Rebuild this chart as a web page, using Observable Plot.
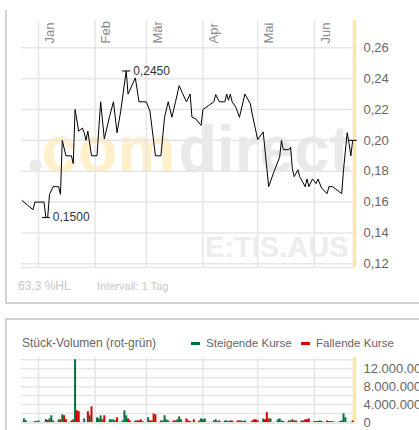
<!DOCTYPE html>
<html><head><meta charset="utf-8">
<script src="https://cdn.jsdelivr.net/npm/d3@7"></script>
<script src="https://cdn.jsdelivr.net/npm/@observablehq/plot@0.6"></script>
<style>
body{margin:0;width:419px;height:430px;overflow:hidden;position:relative;background:#fff;font-family:"Liberation Sans",Arial,sans-serif;}
.abs{position:absolute;white-space:nowrap;line-height:12px;}
</style></head><body>
<div class="abs" style="left:5px;top:10px;width:420px;height:292px;border-left:2px solid #d2d2d2;border-bottom:2px solid #d2d2d2;"></div>
<div class="abs" style="left:5px;top:318px;width:420px;height:140px;border-left:2px solid #d2d2d2;border-top:2px solid #d2d2d2;"></div>
<div id="price" class="abs" style="left:0;top:0;"></div>
<div class="abs" style="left:18px;top:280px;font-size:12px;color:#c8c8c8;">63,3 %HL</div>
<div class="abs" style="left:97px;top:280px;font-size:11px;color:#c8c8c8;">Intervall: 1 Tag</div>
<div class="abs" style="left:22px;top:337px;font-size:12px;color:#666;">Stück-Volumen (rot-grün)</div>
<div class="abs" style="left:191px;top:342px;width:9px;height:3px;background:#00703c;"></div>
<div class="abs" style="left:206px;top:337px;font-size:11.6px;color:#666;">Steigende Kurse</div>
<div class="abs" style="left:301px;top:342px;width:9px;height:3px;background:#d40000;"></div>
<div class="abs" style="left:316px;top:337px;font-size:11.6px;color:#666;">Fallende Kurse</div>
<div id="volume" class="abs" style="left:0;top:350px;"></div>
<script>
// ---- data ----
const priceDates = ["2008-12-23","2008-12-26","2008-12-29","2008-12-30","2009-01-04","2009-01-05","2009-01-06","2009-01-07","2009-01-09","2009-01-12","2009-01-13","2009-01-14","2009-01-16","2009-01-19","2009-01-20","2009-01-21","2009-01-23","2009-01-25","2009-01-26","2009-01-27","2009-01-28","2009-01-30","2009-02-02","2009-02-04","2009-02-06","2009-02-09","2009-02-11","2009-02-13","2009-02-15","2009-02-18","2009-02-19","2009-02-23","2009-02-25","2009-03-01","2009-03-03","2009-03-06","2009-03-09","2009-03-11","2009-03-13","2009-03-15","2009-03-17","2009-03-19","2009-03-21","2009-03-23","2009-03-25","2009-03-26","2009-03-28","2009-03-31","2009-04-01","2009-04-04","2009-04-07","2009-04-08","2009-04-10","2009-04-13","2009-04-14","2009-04-15","2009-04-16","2009-04-17","2009-04-19","2009-04-21","2009-04-24","2009-04-27","2009-04-28","2009-05-01","2009-05-04","2009-05-07","2009-05-10","2009-05-13","2009-05-14","2009-05-15","2009-05-18","2009-05-19","2009-05-20","2009-05-21","2009-05-23","2009-05-24","2009-05-27","2009-05-28","2009-05-29","2009-05-31","2009-06-02","2009-06-03","2009-06-05","2009-06-08","2009-06-09","2009-06-11","2009-06-16","2009-06-17","2009-06-19","2009-06-20","2009-06-21","2009-06-22"];
const priceValues = [0.161,0.158,0.155,0.160,0.160,0.150,0.150,0.165,0.170,0.170,0.165,0.200,0.190,0.190,0.185,0.220,0.206,0.208,0.205,0.200,0.206,0.190,0.190,0.225,0.201,0.216,0.225,0.205,0.219,0.245,0.230,0.2405,0.225,0.225,0.219,0.190,0.190,0.215,0.225,0.215,0.225,0.2355,0.230,0.225,0.230,0.215,0.214,0.2097,0.220,0.2225,0.225,0.2297,0.225,0.225,0.230,0.226,0.230,0.225,0.2215,0.215,0.230,0.2237,0.217,0.2005,0.2055,0.170,0.180,0.189,0.200,0.194,0.194,0.1955,0.1815,0.1765,0.181,0.1765,0.170,0.175,0.170,0.175,0.172,0.175,0.169,0.1655,0.170,0.170,0.1655,0.181,0.205,0.198,0.190,0.200];

const volDates = ["2008-12-24","2008-12-25","2008-12-30","2008-12-31","2009-01-01","2009-01-05","2009-01-06","2009-01-07","2009-01-08","2009-01-09","2009-01-12","2009-01-13","2009-01-14","2009-01-15","2009-01-16","2009-01-19","2009-01-20","2009-01-21","2009-01-22","2009-01-23","2009-01-26","2009-01-28","2009-01-29","2009-01-30","2009-02-02","2009-02-03","2009-02-04","2009-02-05","2009-02-06","2009-02-09","2009-02-10","2009-02-11","2009-02-12","2009-02-13","2009-02-16","2009-02-17","2009-02-18","2009-02-19","2009-02-20","2009-02-23","2009-02-24","2009-02-25","2009-02-26","2009-02-27","2009-03-02","2009-03-03","2009-03-04","2009-03-05","2009-03-06","2009-03-09","2009-03-10","2009-03-11","2009-03-12","2009-03-13","2009-03-16","2009-03-17","2009-03-18","2009-03-19","2009-03-20","2009-03-23","2009-03-24","2009-03-25","2009-03-27","2009-03-30","2009-03-31","2009-04-01","2009-04-02","2009-04-07","2009-04-08","2009-04-09","2009-04-10","2009-04-13","2009-04-14","2009-04-15","2009-04-16","2009-04-17","2009-04-20","2009-04-21","2009-04-22","2009-04-23","2009-04-24","2009-04-28","2009-04-29","2009-04-30","2009-05-01","2009-05-04","2009-05-05","2009-05-06","2009-05-07","2009-05-08","2009-05-12","2009-05-13","2009-05-14","2009-05-15","2009-05-18","2009-05-19","2009-05-20","2009-05-21","2009-05-22","2009-05-25","2009-05-26","2009-05-27","2009-05-28","2009-05-29","2009-06-01","2009-06-02","2009-06-03","2009-06-04","2009-06-05","2009-06-08","2009-06-09","2009-06-10","2009-06-11","2009-06-15","2009-06-16","2009-06-17","2009-06-18","2009-06-22"];
const volValues = [800000,400000,200000,200000,350000,650000,450000,800000,1500000,350000,600000,600000,1700000,1500000,600000,350000,600000,14000000,2600000,2400000,800000,2400000,1500000,3500000,1050000,800000,1500000,600000,1500000,600000,600000,600000,350000,1050000,350000,2600000,1500000,800000,350000,350000,350000,350000,600000,200000,1050000,350000,350000,1900000,1700000,350000,350000,1500000,600000,350000,350000,350000,600000,1250000,600000,800000,350000,200000,600000,350000,800000,600000,800000,350000,600000,200000,350000,350000,350000,200000,350000,350000,350000,350000,350000,200000,350000,350000,600000,600000,350000,800000,600000,2200000,800000,800000,600000,800000,350000,200000,350000,350000,600000,350000,350000,350000,350000,600000,600000,800000,200000,200000,200000,350000,200000,350000,200000,200000,200000,200000,350000,1900000,1050000,350000];
const volDir = ["up","up","down","down","up","up","down","up","up","up","up","down","up","down","down","up","down","up","down","down","up","down","up","down","up","up","up","down","down","up","up","up","up","down","up","up","up","down","down","up","down","down","down","up","up","down","down","down","down","up","up","up","up","up","down","down","up","up","up","down","down","down","down","down","up","up","up","up","up","up","down","up","up","up","down","up","down","down","up","down","up","down","down","down","down","up","down","down","down","up","up","up","up","down","up","up","down","up","down","up","down","down","down","down","up","up","down","up","down","down","up","down","up","down","up","up","up","down"];

const monthDates = ["2009-01-01","2009-02-01","2009-03-01","2009-04-01","2009-05-01","2009-06-01"];
const monthLabels = ["Jan","Feb","Mär","Apr","Mai","Jun"];
const priceTicks = [0.12,0.14,0.16,0.18,0.20,0.22,0.24,0.26];
const priceDomain = [0.1176, 0.2777];
const volTicks = [0,4000000,8000000,12000000];
const volGrid = [0,2000000,4000000,6000000,8000000,10000000,12000000,14000000];
const volDomain = [0, 14500000];
const xDomain = ["2008-12-22T16:00:00Z","2009-06-23T00:00:00Z"];
const watermarkParts = ["com","direct"];
const watermarkSymbol = "E:TIS.AUS";

// ---- build ----
const parse = d3.utcParse("%Y-%m-%d");
const price = priceDates.map((d,i)=>({date: parse(d), value: priceValues[i]}));
const volume = volDates.map((d,i)=>({date: parse(d), value: volValues[i], dir: volDir[i]}));
const months = monthDates.map((d,i)=>({date: parse(d), label: monthLabels[i]}));
const monthTicks = months.map(m=>m.date);
const xDom = xDomain.map(d=>new Date(d));
const fmtPrice = d => d.toFixed(2).replace(".", ",");
const fmt4 = d => d.toFixed(4).replace(".", ",");
const fmtVol = d => d3.format(",")(d).replace(/,/g, ".");
const minPt = d3.least(price, d=>d.value);
const maxPt = d3.greatest(price, d=>d.value);
const lastPt = price[price.length-1];
const dash = {draw(ctx){ ctx.moveTo(-4,0); ctx.lineTo(4,0); }};
const font = "Liberation Sans, Arial, sans-serif";
const grid = "#e6e6e6";
const yellow = "#fde8a2";

const priceChart = Plot.plot({
  width: 419, height: 270,
  marginTop: 20, marginBottom: 3, marginLeft: 21, marginRight: 65,
  style: {fontFamily: font, background: "transparent", color: "#666", overflow: "visible"},
  x: {type: "utc", domain: xDom, axis: null},
  y: {domain: priceDomain, axis: null},
  marks: [
    Plot.dot([0], {frameAnchor: "top-left", dx: 14, dy: 145, r: 6, fill: "#e9e9e9", stroke: null}),
    Plot.text([watermarkParts[0]], {frameAnchor: "top-left", dx: 20, dy: 151, text: d=>d, textAnchor: "start", lineAnchor: "bottom", fontSize: 66, fontWeight: "bold", fill: "#fdf0cb"}),
    Plot.text([watermarkParts[1]], {frameAnchor: "top-left", dx: 157, dy: 151, text: d=>d, textAnchor: "start", lineAnchor: "bottom", fontSize: 66, fontWeight: "bold", fill: "#e9e9e9"}),
    Plot.text([watermarkSymbol], {frameAnchor: "top-left", dx: 327, dy: 236, text: d=>d, textAnchor: "end", lineAnchor: "bottom", fontSize: 29, fontWeight: "bold", fill: "#ececec"}),
    Plot.gridX(monthTicks, {stroke: grid, strokeOpacity: 1, strokeWidth: 1.5}),
    Plot.gridY(priceTicks, {stroke: grid, strokeOpacity: 1, strokeWidth: 1.5}),
    Plot.ruleY([priceDomain[0]], {stroke: grid, strokeWidth: 1.5}),
    Plot.text(months, {x: "date", text: "label", frameAnchor: "top", rotate: -90, textAnchor: "start", dx: 6, dy: 23, fontSize: 13, fill: "#8a8a8a"}),
    Plot.ruleX([xDom[1]], {stroke: yellow, strokeWidth: 3.5}),
    Plot.axisY(priceTicks, {anchor: "right", tickSize: 0, tickPadding: 9, tickFormat: fmtPrice, fontSize: 13, label: null}),
    Plot.line(price, {x: "date", y: "value", stroke: "#000", strokeWidth: 1}),
    Plot.dot([minPt, maxPt, lastPt], {x: "date", y: "value", symbol: dash, fill: "none", stroke: "#222", strokeWidth: 1.2}),
    Plot.text([minPt, maxPt], {x: "date", y: "value", text: d=>fmt4(d.value), textAnchor: "start", dx: 7, fontSize: 12, fill: "#333"})
  ]
});
document.getElementById("price").append(priceChart);

// fit watermark words to the reference lengths
d3.select(priceChart).selectAll("text").each(function(){
  const t = this.textContent;
  if (t === watermarkParts[0]) { this.setAttribute("textLength", 134); this.setAttribute("lengthAdjust", "spacingAndGlyphs"); }
  if (t === watermarkParts[1]) { this.setAttribute("textLength", 172); this.setAttribute("lengthAdjust", "spacingAndGlyphs"); }
});

const volChart = Plot.plot({
  width: 419, height: 80,
  marginTop: 7, marginBottom: 8, marginLeft: 21, marginRight: 65,
  style: {fontFamily: font, background: "transparent", color: "#666", overflow: "visible"},
  x: {type: "utc", domain: xDom, axis: null},
  y: {domain: volDomain, axis: null},
  color: {domain: ["up","down"], range: ["#00703c","#d40000"]},
  marks: [
    Plot.gridX(monthTicks, {stroke: grid, strokeOpacity: 1, strokeWidth: 1.5}),
    Plot.gridY(volGrid, {stroke: grid, strokeOpacity: 1, strokeWidth: 1.5}),
    Plot.ruleY([0], {stroke: grid, strokeWidth: 3}),
    Plot.ruleX([xDom[1]], {stroke: yellow, strokeWidth: 3.5}),
    Plot.ruleX(volume, {x: "date", y1: 0, y2: "value", stroke: "dir", strokeWidth: 2}),
    Plot.axisY(volTicks, {anchor: "right", tickSize: 0, tickPadding: 9, tickFormat: fmtVol, fontSize: 13, label: null})
  ]
});
document.getElementById("volume").append(volChart);
</script>
</body></html>
